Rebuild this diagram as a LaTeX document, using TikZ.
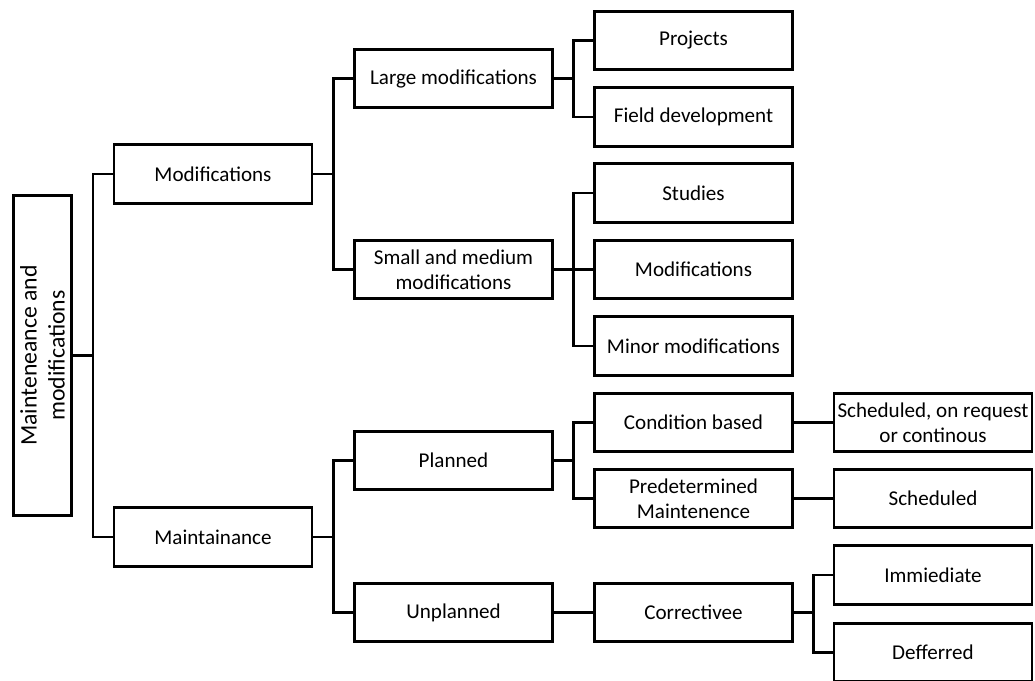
\documentclass[tikz,border=0pt]{standalone}
\usepackage{fontspec}
\setmainfont{Carlito}
\usetikzlibrary{calc}

\begin{document}
\begin{tikzpicture}[x=0.02cm, y=-0.02cm,
    box/.style={draw=black, line width=1.5pt, minimum width=3.96cm, minimum height=1.17cm,
                inner xsep=1pt, align=center, font=\fontsize{12}{14}\selectfont},
    rootbox/.style={box, rotate=90, minimum width=6.4cm, font=\fontsize{13.5}{16}\selectfont},
    link/.style={black, line width=1.5pt}]
    \useasboundingbox (0,0) rectangle (1035,680);

    \node[rootbox] (root) at (42.5,355.5) {Mainteneance and\\modifications};

    \node[box] (mod)    at (213,174)     {Modifications};
    \node[box] (maint)  at (213,537)     {Maintainance};

    \node[box] (large)  at (453.5,78.5)  {Large modifications};
    \node[box] (small)  at (453.5,269.5) {Small and medium\\modifications};
    \node[box] (plan)   at (453.5,460.5) {Planned};
    \node[box] (unplan) at (453.5,612.5) {Unplanned};

    \node[box] (proj)   at (693.5,40.5)  {Projects};
    \node[box] (field)  at (693.5,117)   {Field development};
    \node[box] (stud)   at (693.5,193)   {Studies};
    \node[box] (modif)  at (693.5,269.5) {Modifications};
    \node[box] (minor)  at (693.5,346)   {Minor modifications};
    \node[box] (cond)   at (693.5,422.5) {Condition based};
    \node[box] (predet) at (693.5,498.5) {Predetermined\\Maintenence};
    \node[box] (corr)   at (693.5,612.5) {Correctivee};

    \node[box] (schedA) at (933,422.5)   {Scheduled, on request\\or continous};
    \node[box] (schedB) at (933,498.5)   {Scheduled};
    \node[box] (immed)  at (933,575)     {Immiediate};
    \node[box] (defer)  at (933,652.5)   {Defferred};

    % rotated root: its south side faces right
    \draw[link] (root.south) -- +(20,0) |- (mod.west);
    \draw[link] (root.south) -- +(20,0) |- (maint.west);

    \foreach \a/\b in {mod/large, mod/small, maint/plan, maint/unplan,
                       large/proj, large/field, small/stud, small/modif, small/minor,
                       plan/cond, plan/predet, corr/immed, corr/defer}
        \draw[link] (\a.east) -- +(20,0) |- (\b.west);

    \foreach \a/\b in {unplan/corr, cond/schedA, predet/schedB}
        \draw[link] (\a.east) -- (\b.west);
\end{tikzpicture}
\end{document}
